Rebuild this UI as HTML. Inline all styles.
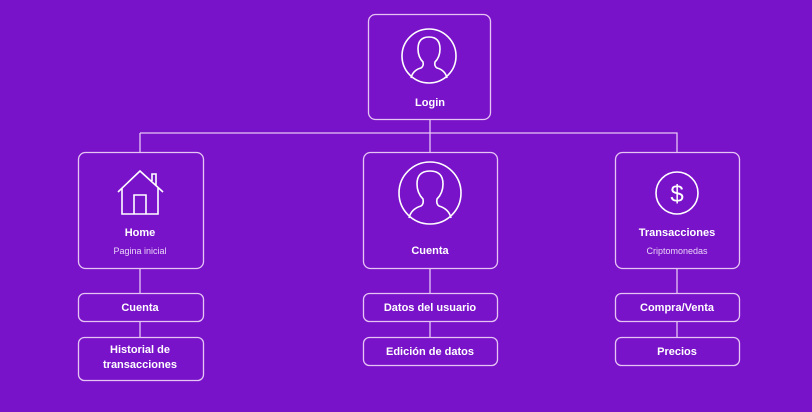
<!DOCTYPE html>
<html><head><meta charset="utf-8"><style>
body{margin:0;width:812px;height:412px;background:#7913c9;overflow:hidden;font-family:"Liberation Sans",sans-serif}
svg{position:absolute;left:0;top:0}
text{fill:#fff;font-family:"Liberation Sans",sans-serif;text-anchor:middle}
.b{font-weight:bold;font-size:11px}
.s{font-size:9px;fill:#ead6f7}
</style></head><body>
<svg width="812" height="412" viewBox="0 0 812 412">
<g fill="none" stroke="#e6c4f4" stroke-width="1.3">
<rect x="368.5" y="14.5" width="122" height="105" rx="7"/>
<rect x="78.5" y="152.5" width="125" height="116" rx="7"/>
<rect x="363.5" y="152.5" width="134" height="116" rx="7"/>
<rect x="615.5" y="152.5" width="124" height="116" rx="7"/>
<rect x="78.5" y="293.5" width="125" height="28" rx="6"/>
<rect x="78.5" y="337.5" width="125" height="43" rx="6"/>
<rect x="363.5" y="293.5" width="134" height="28" rx="6"/>
<rect x="363.5" y="337.5" width="134" height="28" rx="6"/>
<rect x="615.5" y="293.5" width="124" height="28" rx="6"/>
<rect x="615.5" y="337.5" width="124" height="28" rx="6"/>
<path d="M430 119V152M140 133H677V152M140 133V152M140 268V293M140 321V337M430 268V293M430 321V337M677 268V293M677 321V337"/>
</g>
<g fill="none" stroke="#fff" stroke-width="1.6">
<circle cx="429" cy="56" r="27"/>
<path d="M411 78q2-8 10-10q3-2 2-6q-5-5-5-13q0-12 11-12q11 0 11 12q0 8-5 13q-1 4 2 6q8 2 10 10"/>
<circle cx="430" cy="193" r="31"/>
<path d="M409 218q2-9 12-12q3-2 2-7q-6-6-6-15q0-13 13-13q13 0 13 13q0 9-6 15q-1 5 2 7q10 3 12 12"/>
<circle cx="677" cy="193" r="21"/>
<path d="M118 192L140 171L163 192M122 188V214H158V188M134 214V195H146V214M152 181V174H156V185"/>
</g>
<text x="677" y="202" font-size="24" style="fill:#fff">$</text>
<text class="b" x="430" y="106">Login</text>
<text class="b" x="140" y="236">Home</text>
<text class="s" x="140" y="254">Pagina inicial</text>
<text class="b" x="430" y="254" font-size="12">Cuenta</text>
<text class="b" x="677" y="236">Transacciones</text>
<text class="s" x="677" y="254">Criptomonedas</text>
<text class="b" x="140" y="311">Cuenta</text>
<text class="b" x="140" y="353">Historial de</text>
<text class="b" x="140" y="368">transacciones</text>
<text class="b" x="430" y="311">Datos del usuario</text>
<text class="b" x="430" y="355">Edición de datos</text>
<text class="b" x="677" y="311">Compra/Venta</text>
<text class="b" x="677" y="355">Precios</text>
</svg>
</body></html>
